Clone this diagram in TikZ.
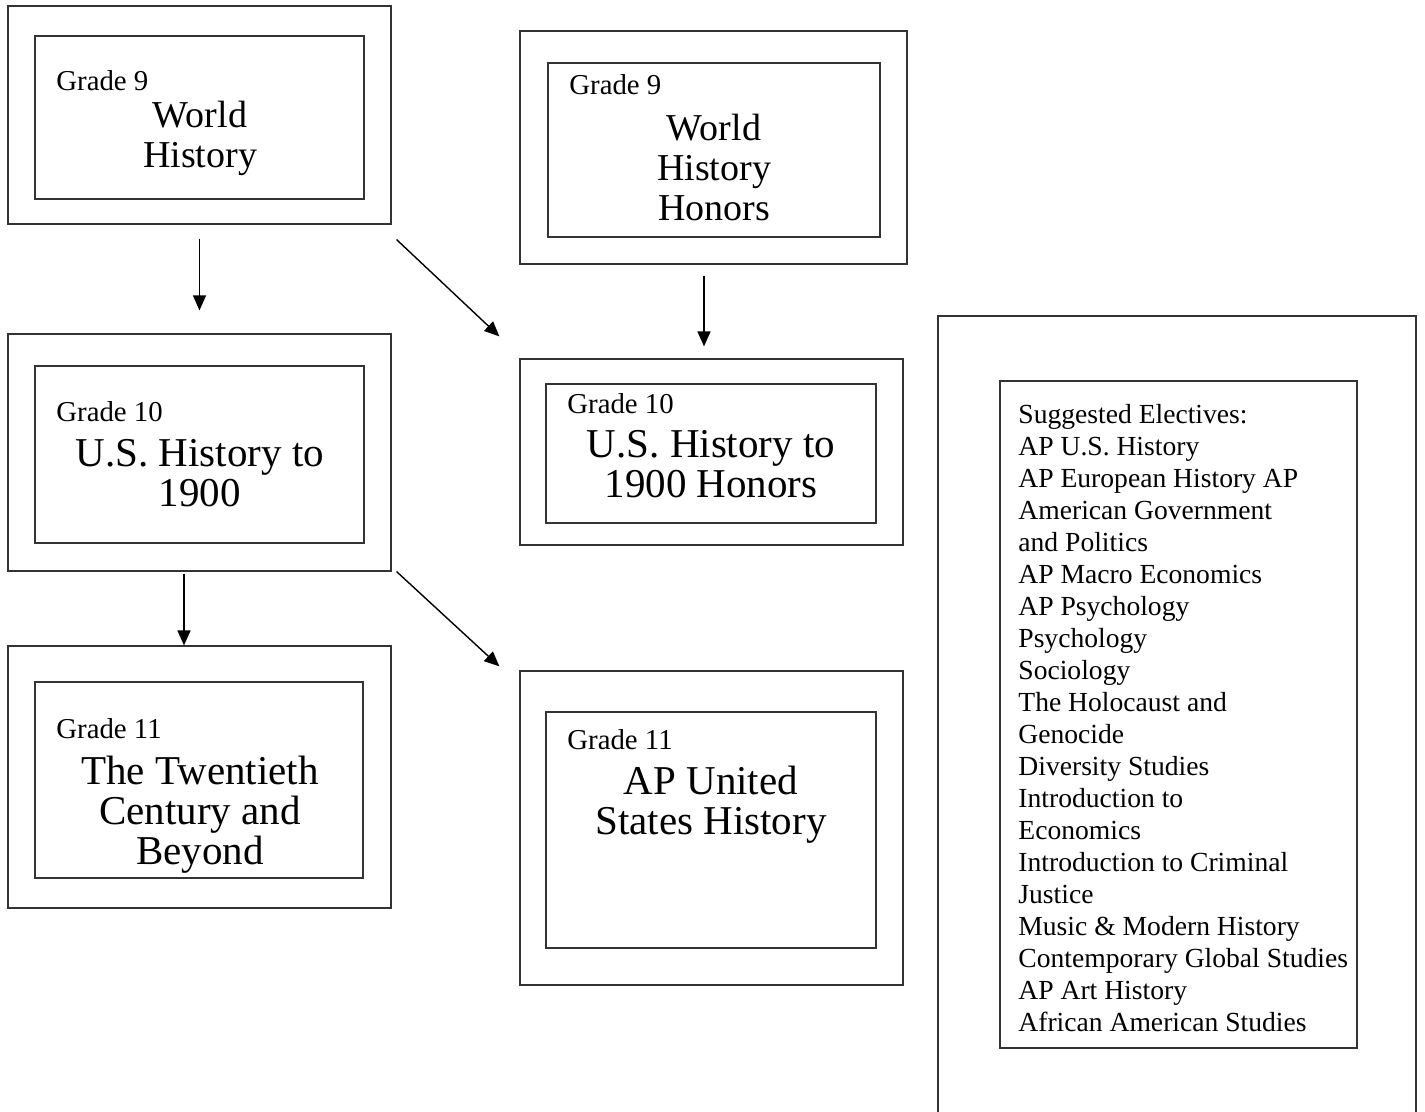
\documentclass[tikz,border=0pt]{standalone}
\usepackage{fontspec}
\setmainfont{Liberation Serif}
\usetikzlibrary{fit,arrows.meta}

\tikzset{
  outer/.style={draw=black!80, line width=0.6pt, inner sep=0pt},
  inner/.style={draw=black!80, line width=0.6pt, inner sep=0pt},
  grade/.style={anchor=base west, inner sep=0pt, font=\fontsize{14.4}{16}\selectfont},
  title/.style={anchor=base, inner sep=0pt, align=center, font=\fontsize{20.5}{20}\selectfont},
  wtitle/.style={title, font=\fontsize{19}{20}\selectfont},
  elect/.style={anchor=north west, inner sep=0pt, align=left, font=\fontsize{13.8}{16}\selectfont},
  arr/.style={line width=0.7pt, -{Triangle[length=7.5pt,width=6.5pt]}}
}

\begin{document}
\begin{tikzpicture}[x=0.5pt, y=-0.5pt]

    \clip (0,0) rectangle (1425,1112);

    % Define nodes (titles sit on the baseline of their last line)

    \node[outer, fit={(8,6) (391,224)}]       (w9){}; %
    \node[inner, fit={(35,36) (364,199)}]     (w9in){}; %
    \node[grade] at (56,91)                   (w9g){Grade 9}; %
    \node[wtitle] at (200,168)                (w9t){World\\History}; %

    \node[outer, fit={(520,31) (907,264)}]    (wh9){}; %
    \node[inner, fit={(548,63) (880,237)}]    (wh9in){}; %
    \node[grade] at (569,95)                  (wh9g){Grade 9}; %
    \node[wtitle] at (714,221)                (wh9t){World\\History\\Honors}; %

    \node[outer, fit={(8,334) (391,571)}]     (u10){}; %
    \node[inner, fit={(35,366) (364,543)}]    (u10in){}; %
    \node[grade] at (56,422)                  (u10g){Grade 10}; %
    \node[title] at (200,507)                 (u10t){U.S. History to\\1900}; %

    \node[outer, fit={(520,359) (903,545)}]   (u10h){}; %
    \node[inner, fit={(546,384) (876,523)}]   (u10hin){}; %
    \node[grade] at (567,414)                 (u10hg){Grade 10}; %
    \node[title] at (711,498)                 (u10ht){U.S. History to\\1900 Honors}; %

    \node[outer, fit={(8,646) (391,908)}]     (t11){}; %
    \node[inner, fit={(35,682) (363,878)}]    (t11in){}; %
    \node[grade] at (56,738)                  (t11g){Grade 11}; %
    \node[title] at (200,864)                 (t11t){The Twentieth\\Century and\\Beyond}; %

    \node[outer, fit={(520,671) (903,985)}]   (ap11){}; %
    \node[inner, fit={(546,712) (876,948)}]   (ap11in){}; %
    \node[grade] at (567,749)                 (ap11g){Grade 11}; %
    \node[title] at (711,834)                 (ap11t){AP United\\States History}; %

    % electives
    \node[outer, fit={(938,316) (1416,1140)}] (el){}; %
    \node[inner, fit={(1000,381) (1357,1048)}] (elin){}; %
    \node[elect] at (1018,404)                (elt){Suggested Electives:\\
      AP U.S. History\\
      AP European History AP\\
      American Government\\
      and Politics\\
      AP Macro Economics\\
      AP Psychology\\
      Psychology\\
      Sociology\\
      The Holocaust and\\
      Genocide\\
      Diversity Studies\\
      Introduction to\\
      Economics\\
      Introduction to Criminal\\
      Justice\\
      Music \& Modern History\\
      Contemporary Global Studies\\
      AP Art History\\
      African American Studies}; %

    % Connect the nodes
    \draw[arr, shorten <=7pt, shorten >=11.5pt] (w9.south) -- (u10.north);
    \draw[arr] ([xshift=2.5pt,yshift=-7.5pt]w9.south east) -- ([xshift=-10pt,yshift=11pt]u10h.north west);
    \draw[arr, shorten <=5.5pt, shorten >=6pt] ([xshift=-4.75pt]wh9.south) -- ([xshift=-4.75pt]wh9.south |- u10h.north);
    \draw[arr, shorten <=1pt] ([xshift=-7.75pt]u10.south) -- ([xshift=-7.75pt]u10.south |- t11.north);
    \draw[arr] ([xshift=2.5pt]u10.south east) -- ([xshift=-10pt,yshift=2pt]ap11.north west);

\end{tikzpicture}
\end{document}
